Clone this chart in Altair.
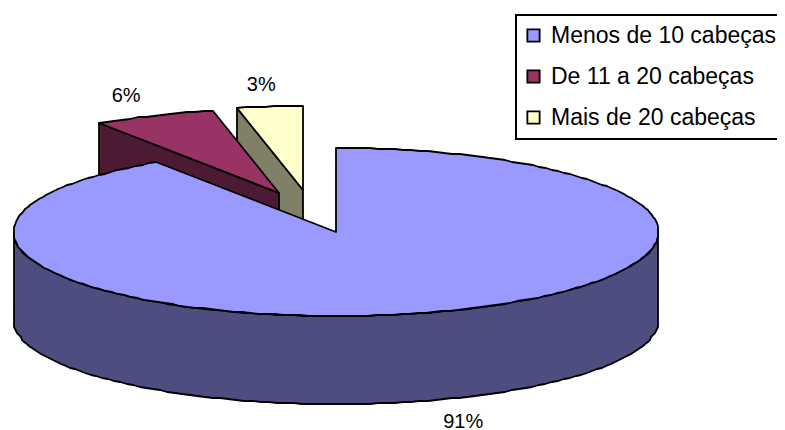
import math
import altair as alt

categories = ["Menos de 10 cabeças", "De 11 a 20 cabeças", "Mais de 20 cabeças"]
shares = [90.6, 6.1, 3.3]
top_colors = ["#9999FF", "#993366", "#FFFFCC"]
side_colors = ["#4D4D80", "#4D1A33", "#808066"]

M = 8
CX, CY, RX, RY, DEPTH = 336 - M, 232 - M, 322.5, 84, 88
EXPLODE = [(0, 0), (-57, -39), (-33, -42)]
LABEL_KX = [1.355, 1.22, 1.25]
LABEL_KY = [1.27, 1.25, 1.26]


def pt(t, ox, oy, dz=0):
    a = math.radians(t)
    return [round(CX + ox - RX * math.sin(a)), round(CY + oy - RY * math.cos(a) + dz)]


def arc(t0, t1, ox, oy, dz=0):
    n = max(2, int(abs(t1 - t0) / 1.5))
    return [pt(t0 + (t1 - t0) * i / n, ox, oy, dz) for i in range(n + 1)]


def feature(name, ring):
    ring = ring + [ring[0]]
    return {"type": "Feature", "properties": {"name": name},
            "geometry": {"type": "Polygon", "coordinates": [ring]}}


# angle measured anticlockwise from 12 o'clock: smallest slice first
spans = []
start = 0.0
for i in [2, 1, 0]:
    spans.insert(0, (start, start + shares[i] * 3.6))
    start += shares[i] * 3.6

features = []
labels = []
for i in [2, 1, 0]:
    t0, t1 = spans[i]
    ox, oy = EXPLODE[i]
    apex = [CX + ox, CY + oy]
    if i == 0:
        side = arc(90, 270, ox, oy) + arc(270, 90, ox, oy, DEPTH)
    else:
        side = [apex, pt(t1, ox, oy), pt(t1, ox, oy, DEPTH), [apex[0], apex[1] + DEPTH]]
    features.append(feature(categories[i] + " lado", side))
    features.append(feature(categories[i], [apex] + arc(t0, t1, ox, oy)))
    mid = math.radians((t0 + t1) / 2)
    labels.append({
        "px": apex[0] - LABEL_KX[i] * RX * math.sin(mid),
        "py": apex[1] - LABEL_KY[i] * RY * math.cos(mid) + (DEPTH if i == 0 else 0),
        "label": f"{round(shares[i])}%",
    })

domain = categories + [c + " lado" for c in categories]
colors = top_colors + side_colors

pie = alt.Chart(alt.Data(values=features)).mark_geoshape(
    stroke="black", strokeWidth=1.8, strokeJoin="round"
).encode(
    color=alt.Color(
        "properties.name:N",
        scale=alt.Scale(domain=domain, range=colors),
        legend=alt.Legend(
            title=None, values=categories, orient="none", legendX=508, legendY=7,
            padding=9, strokeColor="black", fillColor="white",
            symbolType="square", symbolSize=150, symbolStrokeColor="black",
            symbolStrokeWidth=1.8, symbolOffset=-3, labelFont="Liberation Sans", labelFontSize=23,
            labelColor="black", labelOffset=6, rowPadding=17, labelLimit=400,
        ),
    )
).project(type="identity", scale=1, translate=[0, 0])

text = alt.Chart(alt.Data(values=labels)).mark_text(
    font="Liberation Sans", fontSize=20, color="black"
).encode(
    x=alt.X("px:Q", scale=None), y=alt.Y("py:Q", scale=None), text="label:N"
)

chart = alt.layer(pie, text).properties(
    width=769, height=422, padding=0, autosize=alt.AutoSizeParams(type="none")
).configure_view(stroke=None).configure_legend(cornerRadius=0, strokeWidth=2)

chart.save("out.html", embed_options={"renderer": "svg", "actions": False})
